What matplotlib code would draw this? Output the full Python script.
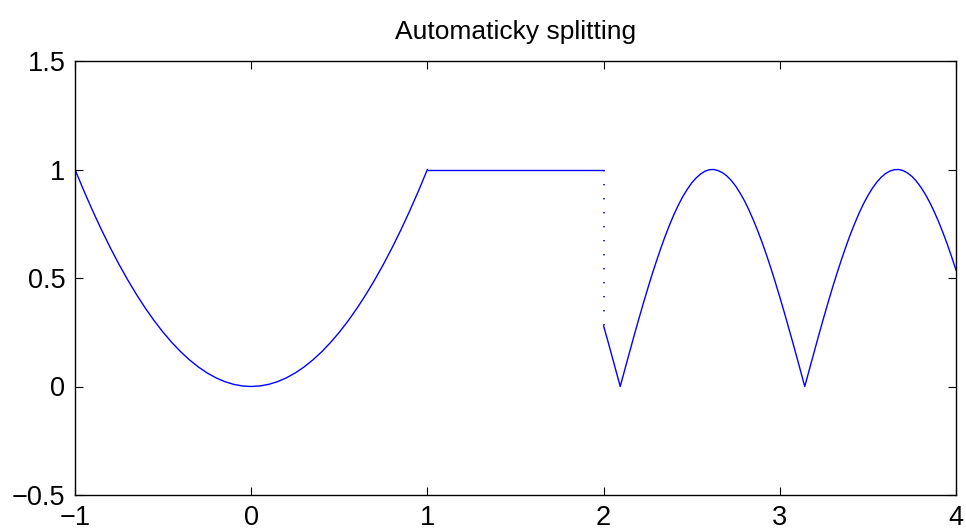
import numpy as np
import matplotlib
matplotlib.use('Agg')
import matplotlib.pyplot as plt

plt.rcParams['font.family'] = ['Liberation Sans', 'DejaVu Sans']

# usek 1: parabola na [-1, 1]
x1 = [-1.0, -0.95, -0.9, -0.85, -0.8, -0.75, -0.7, -0.65, -0.6, -0.55, -0.5,
      -0.45, -0.4, -0.35, -0.3, -0.25, -0.2, -0.15, -0.1, -0.05, 0.0,
      0.05, 0.1, 0.15, 0.2, 0.25, 0.3, 0.35, 0.4, 0.45, 0.5,
      0.55, 0.6, 0.65, 0.7, 0.75, 0.8, 0.85, 0.9, 0.95, 1.0]
y1 = [1.0, 0.9025, 0.81, 0.7225, 0.64, 0.5625, 0.49, 0.4225, 0.36, 0.3025, 0.25,
      0.2025, 0.16, 0.1225, 0.09, 0.0625, 0.04, 0.0225, 0.01, 0.0025, 0.0,
      0.0025, 0.01, 0.0225, 0.04, 0.0625, 0.09, 0.1225, 0.16, 0.2025, 0.25,
      0.3025, 0.36, 0.4225, 0.49, 0.5625, 0.64, 0.7225, 0.81, 0.9025, 1.0]

# usek 2: konstanta na [1, 2]
x2 = [1.0, 2.0]
y2 = [1.0, 1.0]

# usek 3: oblouky na [2, 4]
x3 = [2.0, 2.025, 2.05, 2.075, 2.0944, 2.1, 2.125, 2.15, 2.175, 2.2, 2.225,
      2.25, 2.275, 2.3, 2.325, 2.35, 2.375, 2.4, 2.425, 2.45, 2.475, 2.5,
      2.525, 2.55, 2.575, 2.6, 2.625, 2.65, 2.675, 2.7, 2.725, 2.75, 2.775,
      2.8, 2.825, 2.85, 2.875, 2.9, 2.925, 2.95, 2.975, 3.0, 3.025, 3.05,
      3.075, 3.1, 3.125, 3.1416, 3.15, 3.175, 3.2, 3.225, 3.25, 3.275, 3.3,
      3.325, 3.35, 3.375, 3.4, 3.425, 3.45, 3.475, 3.5, 3.525, 3.55, 3.575,
      3.6, 3.625, 3.65, 3.675, 3.7, 3.725, 3.75, 3.775, 3.8, 3.825, 3.85,
      3.875, 3.9, 3.925, 3.95, 3.975, 4.0]
y3 = [0.279, 0.207, 0.133, 0.058, 0.0, 0.017, 0.092, 0.166, 0.240, 0.312,
      0.382, 0.450, 0.516, 0.578, 0.638, 0.694, 0.746, 0.794, 0.837, 0.876,
      0.909, 0.938, 0.961, 0.979, 0.992, 0.999, 1.0, 0.995, 0.985, 0.970,
      0.949, 0.923, 0.891, 0.855, 0.813, 0.767, 0.717, 0.663, 0.605, 0.544,
      0.479, 0.412, 0.343, 0.271, 0.199, 0.125, 0.050, 0.0, 0.025, 0.100,
      0.174, 0.248, 0.320, 0.390, 0.458, 0.523, 0.585, 0.644, 0.700, 0.751,
      0.799, 0.842, 0.880, 0.913, 0.941, 0.964, 0.981, 0.993, 0.999, 1.0,
      0.995, 0.984, 0.968, 0.946, 0.919, 0.887, 0.850, 0.808, 0.762, 0.711,
      0.657, 0.598, 0.537]

# skok v x = 2
x_jump = [2.0, 2.0]
y_jump = [1.0, 0.279]

xticks = [-1, 0, 1, 2, 3, 4]
xlabels = ['\u22121', '0', '1', '2', '3', '4']
yticks = [-0.5, 0, 0.5, 1, 1.5]
ylabels = ['\u22120.5', '0', '0.5', '1', '1.5']

fig = plt.figure(figsize=(9.66, 5.31), dpi=100)
ax = fig.add_axes([75/966, 1 - 495/531, 881/966, 434/531])

ax.plot(x1, y1, color='blue', lw=1.0)
ax.plot(x2, y2, color='blue', lw=1.0, solid_capstyle='butt')
ax.plot(x3, y3, color='blue', lw=1.0)
ax.plot(x_jump, y_jump, color='blue', lw=1.2, linestyle=(0, (0.8, 7.6)))

ax.set_xlim(-1, 4)
ax.set_ylim(-0.5, 1.5)
ax.set_xticks(xticks)
ax.set_xticklabels(xlabels)
ax.set_yticks(yticks)
ax.set_yticklabels(ylabels)
ax.tick_params(direction='in', length=6, width=0.8, top=True, right=True,
               labelsize=19.5)
ax.tick_params(axis='x', pad=7)
ax.tick_params(axis='y', pad=7)
for s in ax.spines.values():
    s.set_linewidth(1.0)

ax.set_title('Automaticky splitting', fontsize=19, pad=16)

fig.savefig('out.png', dpi=100)
